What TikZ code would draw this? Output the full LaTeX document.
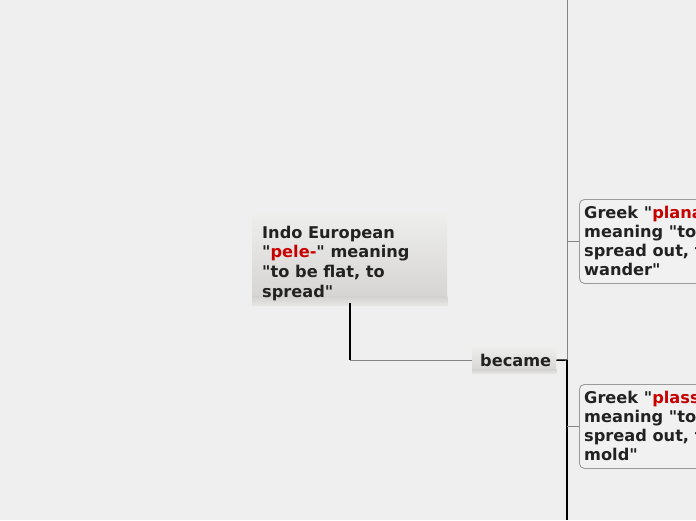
\documentclass[tikz,border=0pt]{standalone}
\usepackage{fontspec}
\setmainfont{DejaVu Sans}[Ligatures=TeXOff]
\definecolor{bgc}{HTML}{EEEFEE}
\definecolor{txtc}{HTML}{222222}
\definecolor{redc}{HTML}{C80000}
\definecolor{linegrey}{HTML}{858585}
\definecolor{boxedge}{HTML}{9A9A9A}
\definecolor{gtop}{HTML}{EEEEED}
\definecolor{gbot}{HTML}{D3D2D0}
\definecolor{gend}{HTML}{E6E6E5}
\tikzset{
  gradbox/.style={draw=none, rectangle, inner sep=0pt, top color=gtop, bottom color=gbot, anchor=north west},
  greekbox/.style={draw=boxedge, line width=0.9pt, rounded corners=5pt, fill=bgc!85!white, inner sep=0pt, anchor=north west},
  txt/.style={anchor=north west, inner sep=0pt, align=left, text=txtc, font={\fontsize{16.2}{19.6}\selectfont\bfseries}},
  gtxt/.style={txt, font={\fontsize{16.2}{19.2}\selectfont\bfseries}},
  greyline/.style={draw=linegrey, line width=0.9pt},
  blackline/.style={draw=black, line width=1.6pt},
}
\newcommand{\rd}[1]{\textcolor{redc}{#1}}
\begin{document}
\begin{tikzpicture}[x=1pt,y=-1pt]
\fill[bgc] (0,0) rectangle (696,520);
\useasboundingbox (0,0) rectangle (696,520);
% boxes
\node (indo) [gradbox, minimum width=195pt, minimum height=91pt] at (252,214) {};
\shade[top color=gbot, bottom color=gend] ([yshift=9pt]indo.south west) rectangle (indo.south east);
\node (indotxt) [txt] at (262,225.8) {Indo European\\"\rd{pele-}" meaning\\"to be flat, to\\spread"};
\node (became) [gradbox, minimum width=84pt, minimum height=26pt] at (472,347) {};
\shade[top color=gbot, bottom color=gend] ([yshift=4pt]became.south west) rectangle (became.south east);
\node (becametxt) [txt] at (480,353.8) {became};
\node (planao) [greekbox, minimum width=190pt, minimum height=84pt] at (579,199) {};
\node (planaotxt) [gtxt] at (584,205.5) {Greek "\rd{planao}"\\meaning "to\\spread out, to\\wander"};
\node (plasso) [greekbox, minimum width=190pt, minimum height=84pt] at (579,384) {};
\node (plassotxt) [gtxt] at (584,390.5) {Greek "\rd{plasso}"\\meaning "to\\spread out, to\\mold"};
% connectors
\coordinate (elbow) at (indo.south |- became.west);
\coordinate (hub) at (567,360);
\coordinate (top) at (567,0);
\coordinate (bottom) at (567,520);
\draw[blackline, line width=1.8pt] ([yshift=2pt]indo.south) -- (elbow);
\draw[greyline] (elbow) -- (became.west);
\draw[blackline, line width=1.4pt] (became.east) -- (hub);
\draw[greyline] (hub) -- (top);
\draw[blackline, line width=1.4pt] (hub) -- (bottom);
\draw[greyline] (hub |- planao.west) -- (planao.west);
\draw[greyline] (hub |- plasso.west) -- (plasso.west);
\end{tikzpicture}
\end{document}
